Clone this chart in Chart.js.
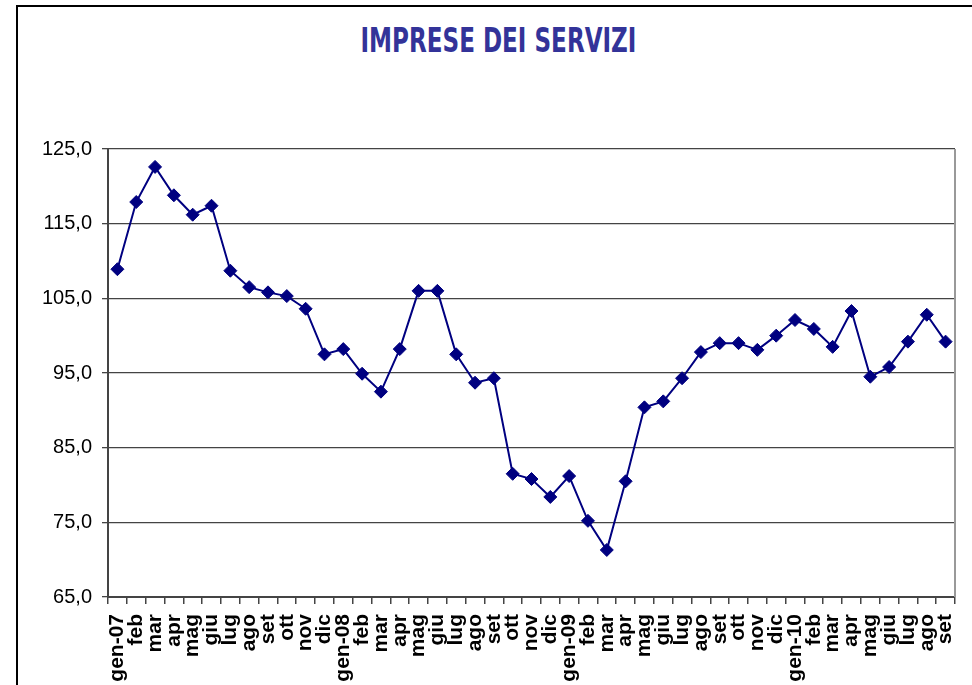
<!DOCTYPE html>
<html>
<head>
<meta charset="utf-8">
<script src="https://cdn.jsdelivr.net/npm/chart.js@4.4.1/dist/chart.umd.min.js"></script>
<style>
  html, body { margin: 0; padding: 0; background: #fff; overflow: hidden; }
  #wrap { position: relative; width: 972px; height: 685px; overflow: hidden; }
  #frame { position: absolute; left: 16px; top: 5px; width: 1000px; height: 800px; border: 2px solid #000; }
  #title { position: absolute; left: 12px; top: 24px; width: 972px; text-align: center; line-height: 1; }
  #title span { display: inline-block; font-family: "DejaVu Sans Condensed", "DejaVu Sans", sans-serif;
    font-stretch: condensed; font-weight: bold; font-size: 33px; color: #333399; transform-origin: center; white-space: nowrap; }
  #chart { position: absolute; left: 0; top: 0; }
</style>
</head>
<body>
<div id="wrap">
  <div id="frame"></div>
  <div id="title"><span id="titleText">IMPRESE DEI SERVIZI</span></div>
  <canvas id="chart" width="972" height="685"></canvas>
</div>
<script>
// mesi gen-07 ... set-10
const months = ['gen', 'feb', 'mar', 'apr', 'mag', 'giu', 'lug', 'ago', 'set', 'ott', 'nov', 'dic'];
const years = ['07', '08', '09', '10'];
const labels = [];
for (let i = 0; i < 45; i++) {
  const m = months[i % 12];
  labels.push(m === 'gen' ? `${m}-${years[Math.floor(i / 12)]}` : m);
}

const values = [
  108.9, 117.9, 122.6, 118.8, 116.2, 117.4, 108.7, 106.5, 105.8, 105.3, 103.6, 97.5,
  98.2, 94.9, 92.5, 98.2, 106.0, 106.0, 97.5, 93.7, 94.3, 81.5, 80.8, 78.4,
  81.2, 75.2, 71.3, 80.5, 90.4, 91.2, 94.3, 97.8, 99.0, 99.0, 98.1, 100.0,
  102.1, 100.9, 98.5, 103.3, 94.5, 95.8, 99.2, 102.8, 99.2
];

const yTicks = [65, 75, 85, 95, 105, 115, 125];

// titolo stretto come nell'originale
const t = document.getElementById('titleText');
t.style.transform = `scaleX(${276 / t.offsetWidth})`;

const plotBorder = {
  id: 'plotBorder',
  afterDraw(chart) {
    const { ctx, chartArea } = chart;
    ctx.save();
    ctx.strokeStyle = '#999';
    ctx.lineWidth = 2;
    ctx.beginPath();
    ctx.moveTo(chartArea.right, chartArea.top);
    ctx.lineTo(chartArea.right, chartArea.bottom);
    ctx.stroke();
    ctx.restore();
  }
};

new Chart(document.getElementById('chart'), {
  type: 'line',
  data: {
    labels,
    datasets: [{
      data: values,
      borderColor: '#000080',
      backgroundColor: '#000080',
      borderWidth: 2,
      pointStyle: 'rectRot',
      pointRadius: 6.5,
      pointBorderWidth: 1,
      pointBorderColor: '#000080',
      pointBackgroundColor: '#000080',
      tension: 0,
      fill: false
    }]
  },
  options: {
    responsive: false,
    animation: false,
    devicePixelRatio: 1,
    layout: { padding: { top: 149, right: 17, left: 0, bottom: 0 } },
    plugins: {
      legend: { display: false },
      tooltip: { enabled: false }
    },
    scales: {
      x: {
        offset: true,
        grid: { offset: true, drawOnChartArea: false, drawTicks: true, tickLength: 7, color: '#444', lineWidth: 1.5 },
        border: { color: '#444', width: 2 },
        ticks: {
          autoSkip: false,
          maxRotation: 90,
          minRotation: 90,
          padding: 10,
          color: '#000',
          font: { family: 'Liberation Sans', size: 21, weight: 'bold' }
        },
        afterFit: s => {
          s.height = 88;
          s.paddingLeft = 0;
          s.paddingRight = 0;
        }
      },
      y: {
        min: yTicks[0],
        max: yTicks[yTicks.length - 1],
        afterBuildTicks: s => { s.ticks = yTicks.map(v => ({ value: v })); },
        ticks: {
          callback: v => v.toFixed(1).replace('.', ','),
          color: '#000',
          padding: 10,
          font: { family: 'Liberation Sans', size: 20 }
        },
        grid: { color: '#444', lineWidth: 1.3, tickLength: 6 },
        border: { color: '#444', width: 2 },
        afterFit: s => { s.width = 108; }
      }
    }
  },
  plugins: [plotBorder]
});
</script>
</body>
</html>
